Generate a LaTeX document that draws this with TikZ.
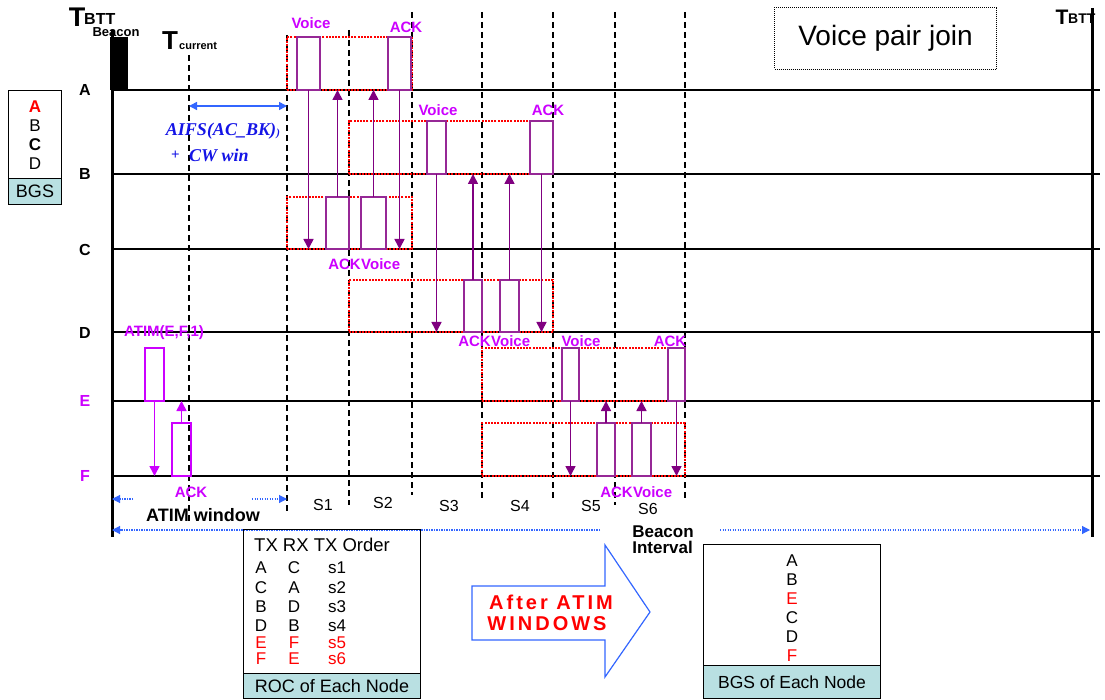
\documentclass[tikz,border=0pt]{standalone}
\usepackage{fontspec}
\setmainfont{Liberation Sans}
\newfontfamily\tnr{Liberation Serif}
\usetikzlibrary{arrows.meta}
\definecolor{bpur}{RGB}{150,40,150}
\definecolor{apur}{RGB}{128,0,128}
\definecolor{mag}{RGB}{204,0,255}
\definecolor{bblue}{RGB}{51,102,255}
\definecolor{tblue}{RGB}{20,20,230}
\definecolor{cyanf}{RGB}{185,224,226}
\newcommand\fs[1]{\fontsize{#1}{#1}\selectfont}
\begin{document}
\begin{tikzpicture}[x=1pt,y=-1pt,
  hl/.style={line width=1.5pt},
  vd/.style={line width=1.3pt, dash pattern=on 6pt off 4pt},
  rbox/.style={draw=red, line width=1.6pt, dash pattern=on 2pt off 1.2pt, inner sep=0, outer sep=0, anchor=north west},
  pbox/.style={draw=bpur, line width=1.4pt, inner sep=0, outer sep=0, anchor=north west},
  mbox/.style={draw=mag, line width=1.4pt, inner sep=0, outer sep=0, anchor=north west},
  parr/.style={apur, line width=1.6pt, -{Triangle[width=10pt,length=10pt]}},
  marr/.style={mag, line width=1.6pt, -{Triangle[width=10pt,length=10pt]}},
  lbl/.style={text=mag, font=\fs{15}\bfseries, inner sep=0},
  rowl/.style={font=\fs{16}\bfseries, inner sep=0},
  slbl/.style={font=\fs{16}, inner sep=0},
  txt/.style={font=\fs{17}, inner sep=0},
  bdot/.style={bblue, line width=1.1pt, dash pattern=on 1.2pt off 1.3pt, -{Triangle[width=8pt,length=8pt]}},
]
\useasboundingbox (0,0) rectangle (1105,700);
% line coordinates
\coordinate (lA) at (112,90);  \coordinate (lAe) at (1100,90);
\coordinate (lB) at (112,174); \coordinate (lBe) at (1100,174);
\coordinate (lC) at (112,249); \coordinate (lCe) at (1100,249);
\coordinate (lD) at (112,332); \coordinate (lDe) at (1100,332);
\coordinate (lE) at (112,401); \coordinate (lEe) at (1100,401);
\coordinate (lF) at (112,476); \coordinate (lFe) at (1100,476);
\foreach \s in {A,B,C,D,E,F} {\draw[hl] (l\s) -- (l\s e);}
% main verticals
\coordinate (v0t) at (112,30); \coordinate (v0b) at (112,537);
\coordinate (v1t) at (1092,8); \coordinate (v1b) at (1092,537);
\draw[line width=3pt] (v0t) -- (v0b);
\draw[line width=3pt] (v1t) -- (v1b);
\node[fill=black, inner sep=0, minimum width=18, minimum height=53, anchor=north west] (beac) at (110,37) {};
% dashed verticals
\foreach \x/\a/\b in {189/55/522, 287/35/513, 349/30/505, 412/12/495, 482/12/500, 553/12/500, 615/12/505, 685/12/500} {
  \coordinate (dt\x) at (\x,\a); \coordinate (db\x) at (\x,\b);
  \draw[vd] (dt\x) -- (db\x);
}
% red pair boxes
\node[rbox, minimum width=125, minimum height=53] (r1) at (287,37) {};
\node[rbox, minimum width=125, minimum height=52] (r2) at (287,197) {};
\node[rbox, minimum width=204, minimum height=53] (r3) at (349,121) {};
\node[rbox, minimum width=204, minimum height=52] (r4) at (349,280) {};
\node[rbox, minimum width=203, minimum height=53] (r5) at (482,348) {};
\node[rbox, minimum width=203, minimum height=53] (r6) at (482,423) {};
% purple frames
\node[pbox, minimum width=23, minimum height=53] (aV) at (297,37) {};
\node[pbox, minimum width=23, minimum height=53] (aA) at (388,37) {};
\node[pbox, minimum width=23, minimum height=52] (cA) at (326,197) {};
\node[pbox, minimum width=25, minimum height=52] (cV) at (361,197) {};
\node[pbox, minimum width=19, minimum height=53] (bV) at (427,121) {};
\node[pbox, minimum width=23, minimum height=53] (bA) at (530,121) {};
\node[pbox, minimum width=18, minimum height=52] (dA) at (464,280) {};
\node[pbox, minimum width=19, minimum height=52] (dV) at (500,280) {};
\node[pbox, minimum width=17, minimum height=53] (eV) at (562,348) {};
\node[pbox, minimum width=17, minimum height=53] (eA) at (668,348) {};
\node[pbox, minimum width=18, minimum height=53] (fA) at (597,423) {};
\node[pbox, minimum width=19, minimum height=53] (fV) at (632,423) {};
\node[mbox, minimum width=19, minimum height=53] (atim) at (145,348) {};
\node[mbox, minimum width=19, minimum height=53] (atack) at (172,423) {};
% arrows
\draw[parr] (aV.south) -- (aV.south |- lC);
\draw[parr] (cA.north) -- (cA.north |- lA);
\draw[parr] (cV.north) -- (cV.north |- lA);
\draw[parr] (aA.south) -- (aA.south |- lC);
\draw[parr] (bV.south) -- (bV.south |- lD);
\draw[parr] (dA.north) -- (dA.north |- lB);
\draw[parr] (dV.north) -- (dV.north |- lB);
\draw[parr] (bA.south) -- (bA.south |- lD);
\draw[parr] (eV.south) -- (eV.south |- lF);
\draw[parr] (fA.north) -- (fA.north |- lE);
\draw[parr] (fV.north) -- (fV.north |- lE);
\draw[parr] (eA.south) -- (eA.south |- lF);
\draw[marr] (atim.south) -- (atim.south |- lF);
\draw[marr] (atack.north) -- (atack.north |- lE);
% frame labels
\node[lbl] (tAV) at (311,23) {Voice};
\node[lbl] (tAA) at (406,27) {ACK};
\node[lbl, anchor=east] (tCA) at (361,264) {ACK};
\node[lbl, anchor=west] (tCV) at (361,264) {Voice};
\node[lbl] (tBV) at (438,110) {Voice};
\node[lbl] (tBA) at (548,110) {ACK};
\node[lbl, anchor=east] (tDA) at (491,341) {ACK};
\node[lbl, anchor=west] (tDV) at (491,341) {Voice};
\node[lbl] (tEV) at (581,341) {Voice};
\node[lbl] (tEA) at (670,341) {ACK};
\node[lbl, anchor=east] (tFA) at (633,492) {ACK};
\node[lbl, anchor=west] (tFV) at (633,492) {Voice};
\node[lbl] (tatim) at (164,333) {ATIM(E,F,1)};
\node[lbl] (tatack) at (191,492) {ACK};
% row labels
\node[rowl] (rA) at (85,90) {A};
\node[rowl] (rB) at (85,174) {B};
\node[rowl] (rC) at (85,250) {C};
\node[rowl] (rD) at (85,333) {D};
\node[rowl, text=mag] (rE) at (85,401) {E};
\node[rowl, text=mag] (rF) at (85,476) {F};
% TBTT labels
\node[inner sep=0, font=\fs{27}\bfseries] (T1) at (77,17) {T};
\node[inner sep=0, font=\fs{16}\bfseries, anchor=west] (T1s) at (84,19) {BTT};
\node[inner sep=0, font=\fs{13}\bfseries] (bcn) at (116,32) {Beacon};
\node[inner sep=0, font=\fs{26}\bfseries] (T2) at (170,41) {T};
\node[inner sep=0, font=\fs{11}\bfseries, anchor=west] (T2s) at (179,46) {current};
\node[inner sep=0, font=\fs{21}\bfseries] (T3) at (1062,17) {T};
\node[inner sep=0, font=\fs{14}\bfseries, anchor=west] (T3s) at (1068,19) {BTT};
% AIFS
\coordinate (af1) at (189,106); \coordinate (af2) at (287,106);
\draw[bblue, line width=1.5pt, {Triangle[width=8pt,length=8pt]}-{Triangle[width=8pt,length=8pt]}] (af1) -- (af2);
\node[inner sep=0, text=tblue, font=\tnr\fs{18}\bfseries\itshape] (aifs) at (221,131) {AIFS(AC\_BK)};
\node[inner sep=0, text=tblue, font=\tnr\fs{11}\bfseries\itshape, anchor=west] (aifs2) at ([yshift=-3pt]aifs.east) {)};
\node[inner sep=0, text=tblue, font=\tnr\fs{15}\bfseries, anchor=west] (plus) at (171,155) {+};
\node[inner sep=0, text=tblue, font=\tnr\fs{18}\bfseries\itshape, anchor=west] (cw) at (189,155) {CW win};
% left BGS
\node[draw, line width=1pt, minimum width=53, minimum height=88, anchor=north west, inner sep=0] (bgsL) at (8,90) {};
\node[draw, line width=1pt, fill=cyanf, minimum width=53, minimum height=26, anchor=north west, inner sep=0, font=\fs{18}] (bgsLf) at (8,178) {BGS};
\node[txt, text=red, font=\fs{17}\bfseries] (lgA) at (35,107) {A};
\node[txt] (lgB) at (35,126) {B};
\node[txt, font=\fs{17}\bfseries] (lgC) at (35,145) {C};
\node[txt] (lgD) at (35,164) {D};
% Voice pair join
\node[draw, line width=1pt, dash pattern=on 1pt off 1pt, minimum width=222, minimum height=62, anchor=north west, inner sep=0] (vpj) at (774,7) {};
\node[inner sep=0, font=\fs{28}] (vpjt) at (vpj.center) {Voice pair join};
% S labels
\node[slbl] (s1) at (323,505) {S1};
\node[slbl] (s2) at (383,503) {S2};
\node[slbl] (s3) at (449,506) {S3};
\node[slbl] (s4) at (520,506) {S4};
\node[slbl] (s5) at (591,506) {S5};
\node[slbl] (s6) at (648,509) {S6};
% ATIM window
\coordinate (aw1) at (133,499); \coordinate (aw0) at (112,499);
\coordinate (aw2) at (252,499); \coordinate (aw3) at (287,499);
\draw[bdot] (aw1) -- (aw0);
\draw[bdot] (aw2) -- (aw3);
\node[inner sep=0, font=\fs{18}\bfseries] (atw) at (203,515) {ATIM window};
% beacon interval
\coordinate (bi1) at (600,530); \coordinate (bi0) at (112,530);
\coordinate (bi2) at (720,530); \coordinate (bi3) at (1090,530);
\draw[bdot] (bi1) -- (bi0);
\draw[bdot] (bi2) -- (bi3);
\node[inner sep=0, font=\fs{17}\bfseries, align=left] (bint) at (663,540) {Beacon\\[-1pt]Interval};
% ROC table
\node[draw, line width=1pt, minimum width=177, minimum height=144, anchor=north west, inner sep=0] (roc) at (243,529) {};
\node[draw, line width=1pt, fill=cyanf, minimum width=177, minimum height=25, anchor=north west, inner sep=0, font=\fs{18}] (rocf) at (243,673) {ROC of Each Node};
\node[txt, font=\fs{18.5}, anchor=west] (roch) at (254,545) {TX RX TX Order};
\foreach \a/\b/\c/\y/\col [count=\i] in {A/C/s1/568/black, C/A/s2/588/black, B/D/s3/607/black, D/B/s4/626/black, E/F/s5/643/red, F/E/s6/659/red} {
  \node[txt, text=\col] (rc1\i) at (261,\y) {\a};
  \node[txt, text=\col] (rc2\i) at (294,\y) {\b};
  \node[txt, text=\col] (rc3\i) at (337,\y) {\c};
}
% big arrow
\draw[bblue, line width=1.2pt] (472,586) -- (605,586) -- (605,545) -- (650,612) -- (605,677) -- (605,640) -- (472,640) -- cycle;
\node[inner sep=0, text=red, font=\fs{20}\bfseries\addfontfeature{LetterSpace=15}] (aft1) at (551,602) {After ATIM};
\node[inner sep=0, text=red, font=\fs{20}\bfseries\addfontfeature{LetterSpace=15}] (aft2) at (547,624) {WINDOWS};
% BGS of each node
\node[draw, line width=1pt, minimum width=177, minimum height=121, anchor=north west, inner sep=0] (bgsR) at (703,544) {};
\node[draw, line width=1pt, fill=cyanf, minimum width=177, minimum height=33, anchor=north west, inner sep=0, font=\fs{17.5}] (bgsRf) at (703,665) {BGS of Each Node};
\foreach \l/\y/\col [count=\i] in {A/561/black, B/580/black, E/599/red, C/618/black, D/637/black, F/656/red} {
  \node[txt, text=\col] (bg\i) at (792,\y) {\l};
}
\end{tikzpicture}
\end{document}
